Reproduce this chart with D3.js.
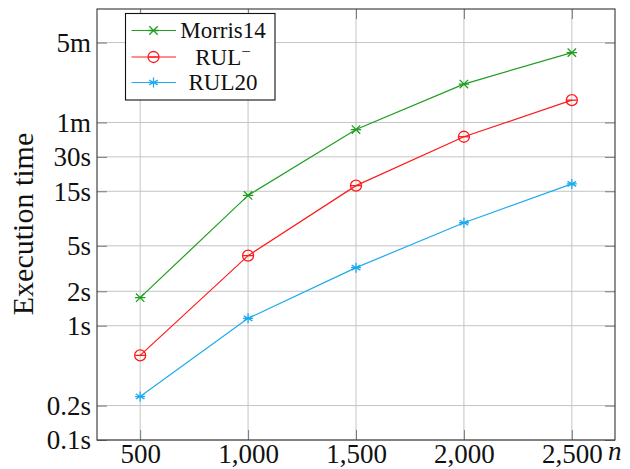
<!DOCTYPE html>
<html><head><meta charset="utf-8">
<script src="https://cdn.jsdelivr.net/npm/d3@7"></script>
<style>body{margin:0;background:#fff}svg{display:block}
svg text{font-family:"Liberation Serif","Times New Roman","DejaVu Serif",serif;}
</style>
</head><body>
<svg id="c" width="630" height="469"></svg>
<script>
const nValues = [500, 1000, 1500, 2000, 2500];
const morris14 = [1.76, 13.8, 52, 130, 245];
const rulMinus = [0.55, 4.1, 16.8, 45, 94];
const rul20 = [0.24, 1.16, 3.22, 7.96, 17.4];
const xTicks = [500, 1000, 1500, 2000, 2500];
const xTickLabels = ["500", "1,000", "1,500", "2,000", "2,500"];
const yTicks = [0.1, 0.2, 1, 2, 5, 15, 30, 60, 300];
const yTickLabels = ["0.1s", "0.2s", "1s", "2s", "5s", "15s", "30s", "1m", "5m"];
const seriesNames = ["Morris14", "RUL", "RUL20"];
const colors = ["#1f9e1f", "#ff1a1a", "#1eaaee"];

const svg = d3.select("#c");
const L = 97, R = 615, T = 9, B = 440;
const x = d3.scaleLinear().domain([300, 2700]).range([L, R]);
const y = d3.scaleLog().domain([0.1, 590]).range([B, T]);

// grid
const g = svg.append("g");
g.selectAll(".gx").data(xTicks).join("line")
  .attr("x1", d => x(d)).attr("x2", d => x(d)).attr("y1", T).attr("y2", B)
  .attr("stroke", "#c4c4c4").attr("stroke-width", 1);
g.selectAll(".gy").data(yTicks).join("line")
  .attr("y1", d => y(d)).attr("y2", d => y(d)).attr("x1", L).attr("x2", R)
  .attr("stroke", "#c4c4c4").attr("stroke-width", 1);

// axes via d3 axis (inward ticks)
const tl = 10;
const axB = svg.append("g").attr("transform", `translate(0,${B})`)
  .call(d3.axisBottom(x).tickValues(xTicks).tickSize(-tl).tickFormat((d,i)=>xTickLabels[i]).tickPadding(tl+6));
const axT = svg.append("g").attr("transform", `translate(0,${T})`)
  .call(d3.axisTop(x).tickValues(xTicks).tickSize(-tl).tickFormat(""));
const axL = svg.append("g").attr("transform", `translate(${L},0)`)
  .call(d3.axisLeft(y).tickValues(yTicks).tickSize(-tl).tickFormat((d,i)=>yTickLabels[i]).tickPadding(tl+6));
const axR = svg.append("g").attr("transform", `translate(${R},0)`)
  .call(d3.axisRight(y).tickValues(yTicks).tickSize(-tl).tickFormat(""));
[axB, axT, axL, axR].forEach(a => {
  a.attr("font-family", null);
  a.select(".domain").remove();
  a.selectAll(".tick line").attr("stroke", "#7a7a7a").attr("stroke-width", 1);
  a.selectAll("text").attr("font-size", 27).attr("fill", "#111");
});
axB.selectAll("text").attr("dy", null).attr("y", 23);
axL.selectAll("text").attr("x", -6).attr("dy", "0.33em");

// frame
svg.append("rect").attr("x", L).attr("y", T).attr("width", R - L).attr("height", B - T)
  .attr("fill", "none").attr("stroke", "#333").attr("stroke-width", 1.1);

// markers
function drawMarker(sel, k, cx, cy) {
  const c = colors[k];
  const m = sel.append("g").attr("transform", `translate(${cx},${cy})`)
    .attr("stroke", c).attr("fill", "none").attr("stroke-width", 1.3);
  if (k === 0) {
    const s = 4.2;
    m.append("path").attr("d", `M${-s},${-s}L${s},${s}M${-s},${s}L${s},${-s}M${-s-1},0L${s+1},0`);
  } else if (k === 1) {
    m.append("circle").attr("r", 5.5).attr("fill", "none");
    m.append("path").attr("d", "M-5,0L5,0");
  } else {
    const s = 5;
    m.append("path").attr("d", `M0,${-s}L0,${s}M${-s*0.87},${-s*0.5}L${s*0.87},${s*0.5}M${-s*0.87},${s*0.5}L${s*0.87},${-s*0.5}M${-s},0L${s},0`);
  }
}

const allSeries = [morris14, rulMinus, rul20];
const line = d3.line().x((d, i) => x(nValues[i])).y(d => y(d));
allSeries.forEach((s, k) => {
  svg.append("path").datum(s).attr("d", line).attr("fill", "none")
    .attr("stroke", colors[k]).attr("stroke-width", 1.2);
  s.forEach((v, i) => drawMarker(svg, k, x(nValues[i]), y(v)));
});

// legend
const lg = svg.append("g");
lg.append("rect").attr("x", 125.5).attr("y", 13.5).attr("width", 149.5).attr("height", 86.5)
  .attr("fill", "#fff").attr("stroke", "#111").attr("stroke-width", 1.1);
const ly = [30.5, 57, 82.5];
seriesNames.forEach((nm, k) => {
  lg.append("line").attr("x1", 131.5).attr("x2", 176).attr("y1", ly[k]).attr("y2", ly[k])
    .attr("stroke", colors[k]).attr("stroke-width", 1.2);
  drawMarker(lg, k, 153.5, ly[k]);
  const t = lg.append("text").attr("x", 223).attr("y", ly[k]).attr("dy", "0.33em")
    .attr("text-anchor", "middle").attr("font-size", 23).attr("fill", "#111");
  t.append("tspan").text(nm);
  if (k === 1) t.append("tspan").attr("dy", "-0.45em").attr("font-size", 17).text("\u2212");
});

// axis labels
svg.append("text").attr("transform", "translate(33,224) rotate(-90)")
  .attr("text-anchor", "middle").attr("font-size", 30).attr("fill", "#111")
  .text("Execution time");
svg.append("text").attr("x", 608).attr("y", 460)
  .attr("font-style", "italic").attr("font-size", 27).attr("fill", "#111").text("n");
</script>
</body></html>
